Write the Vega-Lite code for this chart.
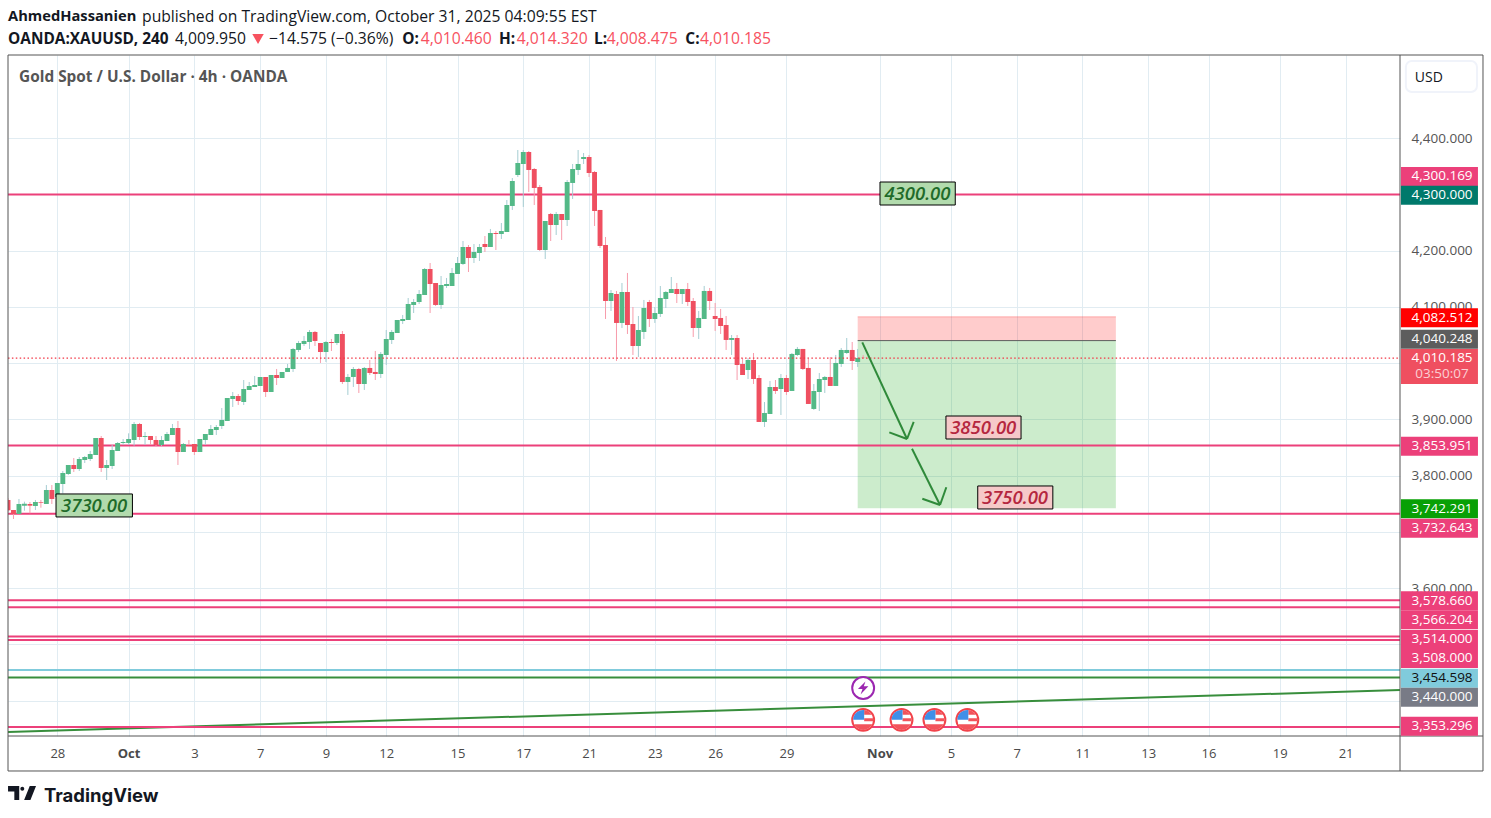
{"$schema":"https://vega.github.io/schema/vega-lite/v6.json","width":1392,"height":681,"autosize":{"type":"none"},"padding":{"left":8,"top":55,"right":91,"bottom":82},"background":"#ffffff","config":{"view":{"stroke":null},"font":"Open Sans","scale":{"continuousPadding":0}},
"resolve":{"scale":{"color":"independent","fill":"independent"},"axis":{"x":"independent","y":"independent"}},
"datasets":{
"candles":[
{"bar":-9,"open":3756.9,"high":3760,"low":3736,"close":3738.5},
{"bar":-8,"open":3739.1,"high":3739.1,"low":3723.1,"close":3732},
{"bar":-7,"open":3732,"high":3758.7,"low":3732,"close":3749.8},
{"bar":-6,"open":3746.8,"high":3753.9,"low":3737.9,"close":3750.4},
{"bar":-5,"open":3749.8,"high":3753.3,"low":3733.2,"close":3746.8},
{"bar":-4,"open":3746.2,"high":3756.9,"low":3739.1,"close":3753.3},
{"bar":-3,"open":3753.3,"high":3756.9,"low":3743.2,"close":3752.1},
{"bar":-2,"open":3749.8,"high":3783.5,"low":3749.8,"close":3774.7},
{"bar":-1,"open":3774.7,"high":3783.5,"low":3749.8,"close":3758.7},
{"bar":0,"open":3762.2,"high":3787.1,"low":3762.2,"close":3787.1},
{"bar":1,"open":3785.3,"high":3808.4,"low":3768.7,"close":3804.9},
{"bar":2,"open":3803.1,"high":3819.1,"low":3801.3,"close":3819.1},
{"bar":3,"open":3819.1,"high":3831.5,"low":3806.7,"close":3812},
{"bar":4,"open":3812,"high":3833.3,"low":3808.4,"close":3829.8},
{"bar":5,"open":3828,"high":3835.1,"low":3822.6,"close":3833.3},
{"bar":6,"open":3829.8,"high":3844,"low":3826.2,"close":3838.6},
{"bar":7,"open":3836.9,"high":3867.1,"low":3836.9,"close":3867.1},
{"bar":8,"open":3867.1,"high":3870.6,"low":3806.7,"close":3813.8},
{"bar":9,"open":3813.8,"high":3828,"low":3792.4,"close":3819.1},
{"bar":10,"open":3817.3,"high":3854.7,"low":3812,"close":3845.8},
{"bar":11,"open":3844,"high":3860,"low":3844,"close":3858.2},
{"bar":12,"open":3858.2,"high":3865.3,"low":3854.7,"close":3860},
{"bar":13,"open":3858.2,"high":3875.4,"low":3854.7,"close":3865.3},
{"bar":14,"open":3863.5,"high":3895.5,"low":3853.5,"close":3892},
{"bar":15,"open":3892,"high":3893.8,"low":3863.5,"close":3868.9},
{"bar":16,"open":3868.9,"high":3877.8,"low":3854.7,"close":3870.6},
{"bar":17,"open":3870.6,"high":3870.6,"low":3854.7,"close":3863.5},
{"bar":18,"open":3863.5,"high":3870.6,"low":3852.9,"close":3854.7},
{"bar":19,"open":3854.7,"high":3870.6,"low":3852.9,"close":3863.5},
{"bar":20,"open":3861.8,"high":3877.8,"low":3861.8,"close":3874.2},
{"bar":21,"open":3872.4,"high":3892,"low":3872.4,"close":3884.9},
{"bar":22,"open":3884.9,"high":3897.3,"low":3819.1,"close":3842.2},
{"bar":23,"open":3842.2,"high":3858.2,"low":3842.2,"close":3856.4},
{"bar":24,"open":3854.7,"high":3863.5,"low":3851.1,"close":3852.9},
{"bar":25,"open":3856.4,"high":3856.4,"low":3836.9,"close":3842.2},
{"bar":26,"open":3842.2,"high":3865.3,"low":3842.2,"close":3865.3},
{"bar":27,"open":3863.5,"high":3874.2,"low":3854.7,"close":3874.2},
{"bar":28,"open":3872.4,"high":3890.2,"low":3872.4,"close":3883.1},
{"bar":29,"open":3881.3,"high":3890.2,"low":3872.4,"close":3886.7},
{"bar":30,"open":3888.4,"high":3920.4,"low":3883.1,"close":3899.1},
{"bar":31,"open":3897.3,"high":3938.2,"low":3897.3,"close":3938.2},
{"bar":32,"open":3936.4,"high":3948.9,"low":3922.2,"close":3941.8},
{"bar":33,"open":3941.8,"high":3945.3,"low":3925.8,"close":3932.9},
{"bar":34,"open":3931.1,"high":3970.2,"low":3925.8,"close":3954.2},
{"bar":35,"open":3952.4,"high":3966.7,"low":3952.4,"close":3959.5},
{"bar":36,"open":3957.8,"high":3977.3,"low":3957.8,"close":3961.3},
{"bar":37,"open":3959.5,"high":3975.5,"low":3959.5,"close":3975.5},
{"bar":38,"open":3975.5,"high":3975.5,"low":3940,"close":3948.9},
{"bar":39,"open":3948.9,"high":3979.1,"low":3948.9,"close":3979.1},
{"bar":40,"open":3979.1,"high":3989.8,"low":3961.3,"close":3973.8},
{"bar":41,"open":3973.8,"high":3984.4,"low":3973.8,"close":3984.4},
{"bar":42,"open":3984.5,"high":3998.7,"low":3984.5,"close":3991.6},
{"bar":43,"open":3989.8,"high":4027.1,"low":3984.5,"close":4025.3},
{"bar":44,"open":4023.6,"high":4039.6,"low":4020,"close":4036},
{"bar":45,"open":4034.2,"high":4048.5,"low":4030.7,"close":4039.6},
{"bar":46,"open":4037.8,"high":4059.1,"low":4025.3,"close":4055.6},
{"bar":47,"open":4055.6,"high":4057.3,"low":4030.7,"close":4039.6},
{"bar":48,"open":4036,"high":4036,"low":4000.5,"close":4020},
{"bar":49,"open":4020,"high":4039.6,"low":4002.2,"close":4037.8},
{"bar":50,"open":4037.8,"high":4043.1,"low":4021.8,"close":4036},
{"bar":51,"open":4036,"high":4052,"low":4032.5,"close":4052},
{"bar":52,"open":4052,"high":4057.3,"low":3963.1,"close":3966.7},
{"bar":53,"open":3966.7,"high":3980.9,"low":3943.6,"close":3975.6},
{"bar":54,"open":3975.6,"high":3993.3,"low":3957.8,"close":3989.8},
{"bar":55,"open":3989.8,"high":3991.6,"low":3947.1,"close":3963.1},
{"bar":56,"open":3963.1,"high":3993.3,"low":3952.5,"close":3991.6},
{"bar":57,"open":3991.6,"high":4005.8,"low":3979.1,"close":3982.7},
{"bar":58,"open":3984.5,"high":4021.8,"low":3970.2,"close":3980.9},
{"bar":59,"open":3980.9,"high":4020,"low":3973.8,"close":4016.5},
{"bar":60,"open":4014.7,"high":4059.1,"low":3996.9,"close":4043.1},
{"bar":61,"open":4041.3,"high":4059.1,"low":4034.2,"close":4055.6},
{"bar":62,"open":4053.8,"high":4076.9,"low":4053.8,"close":4076.9},
{"bar":63,"open":4075.1,"high":4085.8,"low":4069.8,"close":4078.7},
{"bar":64,"open":4076.9,"high":4116,"low":4076.9,"close":4105.3},
{"bar":65,"open":4103.6,"high":4114.2,"low":4089.3,"close":4108.9},
{"bar":66,"open":4108.9,"high":4130.2,"low":4105.3,"close":4123.1},
{"bar":67,"open":4121.3,"high":4169.3,"low":4121.3,"close":4167.6},
{"bar":68,"open":4167.6,"high":4178.2,"low":4089.3,"close":4140.9},
{"bar":69,"open":4142.7,"high":4142.7,"low":4101.8,"close":4103.6},
{"bar":70,"open":4103.6,"high":4155.1,"low":4096.5,"close":4139.1},
{"bar":71,"open":4137.3,"high":4151.6,"low":4133.8,"close":4140.9},
{"bar":72,"open":4137.3,"high":4169.3,"low":4137.3,"close":4160.5},
{"bar":73,"open":4158.7,"high":4188.9,"low":4158.7,"close":4178.2},
{"bar":74,"open":4176.5,"high":4217.3,"low":4174.7,"close":4206.7},
{"bar":75,"open":4206.7,"high":4210.2,"low":4162.2,"close":4187.1},
{"bar":76,"open":4187.1,"high":4212,"low":4178.2,"close":4197.8},
{"bar":77,"open":4196,"high":4212,"low":4181.8,"close":4206.7},
{"bar":78,"open":4212,"high":4226.2,"low":4197.8,"close":4206.7},
{"bar":79,"open":4206.7,"high":4238.7,"low":4206.7,"close":4231.6},
{"bar":80,"open":4231.6,"high":4235.1,"low":4201.3,"close":4229.8},
{"bar":81,"open":4229.8,"high":4249.3,"low":4220.9,"close":4235.1},
{"bar":82,"open":4233.3,"high":4290.2,"low":4233.3,"close":4281.3},
{"bar":83,"open":4279.6,"high":4329.3,"low":4272.5,"close":4324},
{"bar":84,"open":4334.7,"high":4379.1,"low":4331.1,"close":4356},
{"bar":85,"open":4354.2,"high":4379.1,"low":4277.8,"close":4375.6},
{"bar":86,"open":4375.6,"high":4377.3,"low":4304.5,"close":4343.6},
{"bar":87,"open":4345.3,"high":4347.1,"low":4281.3,"close":4311.6},
{"bar":88,"open":4313.3,"high":4316.9,"low":4199.6,"close":4201.3},
{"bar":89,"open":4201.3,"high":4252.9,"low":4185.3,"close":4252.9},
{"bar":90,"open":4265.3,"high":4267.1,"low":4217.3,"close":4245.8},
{"bar":91,"open":4245.8,"high":4268.9,"low":4228,"close":4265.3},
{"bar":92,"open":4265.3,"high":4265.3,"low":4219.1,"close":4254.7},
{"bar":93,"open":4254.7,"high":4325.8,"low":4244,"close":4322.2},
{"bar":94,"open":4320.5,"high":4354.2,"low":4292,"close":4345.3},
{"bar":95,"open":4343.6,"high":4379.1,"low":4334.7,"close":4354.2},
{"bar":96,"open":4363.1,"high":4373.8,"low":4354.2,"close":4366.7},
{"bar":97,"open":4366.7,"high":4370.2,"low":4331.1,"close":4338.2},
{"bar":98,"open":4340,"high":4341.8,"low":4244,"close":4270.7},
{"bar":99,"open":4272.5,"high":4272.5,"low":4204.9,"close":4208.5},
{"bar":100,"open":4210.2,"high":4224.5,"low":4078.7,"close":4110.7},
{"bar":101,"open":4110.7,"high":4130.2,"low":4092.9,"close":4124.9},
{"bar":102,"open":4123.1,"high":4128.5,"low":4004,"close":4071.6},
{"bar":103,"open":4071.6,"high":4142.7,"low":4062.7,"close":4126.7},
{"bar":104,"open":4126.7,"high":4160.5,"low":4052,"close":4068},
{"bar":105,"open":4069.8,"high":4100,"low":4014.7,"close":4030.7},
{"bar":106,"open":4030.7,"high":4084,"low":4011.1,"close":4059.1},
{"bar":107,"open":4055.6,"high":4112.5,"low":4043.1,"close":4098.2},
{"bar":108,"open":4108.9,"high":4112.5,"low":4064.5,"close":4078.7},
{"bar":109,"open":4078.7,"high":4100,"low":4071.6,"close":4089.3},
{"bar":110,"open":4087.6,"high":4137.3,"low":4082.2,"close":4116},
{"bar":111,"open":4114.2,"high":4128.5,"low":4098.2,"close":4126.7},
{"bar":112,"open":4124.9,"high":4153.3,"low":4124.9,"close":4132},
{"bar":113,"open":4132,"high":4142.7,"low":4107.1,"close":4123.1},
{"bar":114,"open":4123.1,"high":4132,"low":4105.3,"close":4132},
{"bar":115,"open":4132,"high":4142.7,"low":4101.8,"close":4108.9},
{"bar":116,"open":4110.7,"high":4116,"low":4046.7,"close":4062.7},
{"bar":117,"open":4062.7,"high":4092.9,"low":4043.1,"close":4080.5},
{"bar":118,"open":4078.7,"high":4137.4,"low":4078.7,"close":4128.5},
{"bar":119,"open":4128.5,"high":4133.8,"low":4094.7,"close":4110.7},
{"bar":120,"open":4084,"high":4107.1,"low":4057.4,"close":4078.7},
{"bar":121,"open":4080.5,"high":4096.5,"low":4052,"close":4066.2},
{"bar":122,"open":4068,"high":4084,"low":4023.6,"close":4041.4},
{"bar":123,"open":4041.4,"high":4050.2,"low":4014.7,"close":4044.9},
{"bar":124,"open":4044.9,"high":4050.2,"low":3970.2,"close":3996.9},
{"bar":125,"open":3998.7,"high":4009.4,"low":3979.1,"close":3979.1},
{"bar":126,"open":3988,"high":4009.4,"low":3972,"close":4005.8},
{"bar":127,"open":4005.8,"high":4018.2,"low":3963.1,"close":3972},
{"bar":128,"open":3973.8,"high":3979.1,"low":3895.6,"close":3895.6},
{"bar":129,"open":3895.6,"high":3931.1,"low":3886.7,"close":3911.6},
{"bar":130,"open":3909.8,"high":3968.5,"low":3909.8,"close":3957.8},
{"bar":131,"open":3957.8,"high":3970.2,"low":3945.4,"close":3950.7},
{"bar":132,"open":3954.2,"high":3980.9,"low":3908,"close":3973.8},
{"bar":133,"open":3973.8,"high":3979.1,"low":3943.6,"close":3948.9},
{"bar":134,"open":3950.7,"high":4018.2,"low":3950.7,"close":4016.5},
{"bar":135,"open":4014.7,"high":4028.9,"low":4012.9,"close":4025.4},
{"bar":136,"open":4025.4,"high":4025.4,"low":3988,"close":3989.8},
{"bar":137,"open":3991.6,"high":4007.6,"low":3927.6,"close":3927.6},
{"bar":138,"open":3918.7,"high":3963.1,"low":3916.9,"close":3950.7},
{"bar":139,"open":3948.9,"high":3982.7,"low":3915.1,"close":3972},
{"bar":140,"open":3970.2,"high":3977.4,"low":3947.1,"close":3975.6},
{"bar":141,"open":3975.6,"high":4011.1,"low":3959.6,"close":3959.6},
{"bar":142,"open":3959.6,"high":4014.7,"low":3959.6,"close":4000.5},
{"bar":143,"open":3998.7,"high":4027.1,"low":3993.4,"close":4023.6},
{"bar":144,"open":4018.2,"high":4044.9,"low":4016.5,"close":4023.6},
{"bar":145,"open":4023.6,"high":4037.8,"low":3988,"close":4004},
{"bar":146,"open":4002.2,"high":4025.4,"low":3993.4,"close":4009.4},
{"bar":147,"open":4010.46,"high":4014.32,"low":4008.475,"close":4010.185}
],
"levels":[{"price":4300,"kind":"pink"},{"price":3853.951,"kind":"pink"},{"price":3732.643,"kind":"pink"},{"price":3578.66,"kind":"pink"},{"price":3566.204,"kind":"pink"},{"price":3514,"kind":"pink"},{"price":3508,"kind":"pink"},{"price":3353.296,"kind":"pink"},{"price":3454.598,"kind":"blue"},{"price":3441.5,"kind":"green"}],
"tags":[
{"label":"4,300.169","at":4332,"kind":"pink"},
{"label":"4,300.000","at":4298.6,"kind":"teal"},
{"label":"4,082.512","at":4081,"kind":"red"},
{"label":"4,040.248","at":4042.8,"kind":"dark"},
{"label":"3,853.951","at":3852.3,"kind":"pink"},
{"label":"3,742.291","at":3741.4,"kind":"lime"},
{"label":"3,732.643","at":3706.6,"kind":"pink"},
{"label":"3,578.660","at":3577.7,"kind":"pink"},
{"label":"3,566.204","at":3544.1,"kind":"pink"},
{"label":"3,514.000","at":3508.9,"kind":"pink"},
{"label":"3,508.000","at":3475.1,"kind":"pink"},
{"label":"3,454.598","at":3439.9,"kind":"blue"},
{"label":"3,440.000","at":3406.3,"kind":"gray"},
{"label":"3,353.296","at":3354.6,"kind":"pink"}],
"boxes":[{"bar":146,"bar2":193.1,"top":4082.512,"bottom":4040.248,"side":"stop"},{"bar":146,"bar2":193.1,"top":4040.248,"bottom":3742.291,"side":"target"}],
"arrows":[
{"bar":146.84,"price":4037.2,"bar2":155,"price2":3865.3},
{"bar":151.77,"price":3877.2,"bar2":155,"price2":3865.3},
{"bar":156.22,"price":3895.6,"bar2":155,"price2":3865.3},
{"bar":155.91,"price":3848.1,"bar2":161.02,"price2":3748},
{"bar":157.79,"price":3759.2,"bar2":161.02,"price2":3748},
{"bar":162.17,"price":3779.5,"bar2":161.02,"price2":3748}],
"trend":[{"bar":-9,"price":3344.4,"bar2":244.93,"price2":3419.1}],
"notes":[
{"label":"4300.00","bar":150.07,"bar2":163.8,"top":4322.2,"bottom":4281.3,"mid":156.9,"price":4300.5,"tone":"up"},
{"label":"3730.00","bar":-0.24,"bar2":13.7,"top":3767.6,"bottom":3726.7,"mid":6.7,"price":3746.5,"tone":"up"},
{"label":"3850.00","bar":162.1,"bar2":175.8,"top":3906.2,"bottom":3865.3,"mid":168.9,"price":3885.7,"tone":"down"},
{"label":"3750.00","bar":167.9,"bar2":181.6,"top":3781.8,"bottom":3740.9,"mid":174.7,"price":3760.5,"tone":"down"}],
"flags":[{"bar":147,"price":3366},{"bar":154,"price":3366},{"bar":160,"price":3366},{"bar":166,"price":3366}],
"bolt":[{"bar":147,"price":3422.7}],
"boldName":[{"label":"AhmedHassanien","bar":-8.99,"price":4615.5}],
"boldText":[
{"label":"OANDA:XAUUSD, 240","bar":-8.99,"price":4576.4},
{"label":"O:","bar":62.93,"price":4576.4},
{"label":"H:","bar":80.57,"price":4576.4},
{"label":"L:","bar":97.9,"price":4576.4},
{"label":"C:","bar":114.56,"price":4576.4}],
"plainText":[
{"label":"published on TradingView.com, October 31, 2025 04:09:55 EST","bar":15.45,"price":4615.5},
{"label":"4,009.950","bar":21.47,"price":4576.4},
{"label":"−14.575 (−0.36%)","bar":38.62,"price":4576.4}],
"redText":[
{"label":"4,010.460","bar":66.29,"price":4576.4},
{"label":"4,014.320","bar":83.8,"price":4576.4},
{"label":"4,008.475","bar":100.22,"price":4576.4},
{"label":"4,010.185","bar":117.24,"price":4576.4}],
"drop":[{"bar":36.61,"price":4576.4}],
"pane":[{"label":"Gold Spot / U.S. Dollar · 4h · OANDA","bar":-6.99,"price":4509}],
"brand":[{"label":"TradingView","bar":-2.43,"price":3230}],
"brandIcon":[{"bar":-6.44,"price":3236}],
"currency":[{"label":"USD","bar":246,"bar2":258.97,"top":4537.3,"bottom":4482.2,"mid":250.2,"price":4507.1}],
"frame":[{"bar":-9,"bar2":260.07,"top":4548,"bottom":3275.1}],
"frameV":[{"bar":244.93,"top":4548,"bottom":3275.1}],
"frameH":[{"bar":-9,"bar2":260.07,"price":3337.3}],
"midline":[{"bar":146,"bar2":193.1,"price":4040.248}],
"stopline":[{"bar":146,"bar2":193.1,"price":4082.512}],
"lastPrice":[{"bar":-9,"bar2":244.93,"price":4009.2}],
"lastTag":[{"bar":245.1,"bar2":259.15,"price":3994.2}],
"lastLabel":[{"label":"4,010.185","price":4009.3}],
"countdown":[{"label":"03:50:07","price":3980.9}]
},
"layer":[
{"data":{"name":"boxes"},"mark":{"type":"rect"},"encoding":{
"x":{"field":"bar","type":"quantitative","title":null,"scale":{"domain":[-9,244.93],"nice":false,"zero":false},"axis":{"orient":"bottom","values":[0,13,25,37,49,60,73,85,97,109,120,133,150,163,175,187,199,210,223,235],"labelExpr":"{'0':'28','13':'Oct','25':'3','37':'7','49':'9','60':'12','73':'15','85':'17','97':'21','109':'23','120':'26','133':'29','150':'Nov','163':'5','175':'7','187':'11','199':'13','210':'16','223':'19','235':'21'}[datum.value]","domain":false,"ticks":false,"grid":true,"gridColor":"#e1ecf2","gridWidth":1,"labelColor":"#4a4a4a","labelFontSize":13,"labelFont":"Open Sans","labelPadding":11,"labelOverlap":false,"labelFlush":false,"labelBound":false,"labelFontWeight":{"condition":{"test":"datum.value==13||datum.value==150","value":"bold"},"value":"normal"},"title":null}},
"x2":{"field":"bar2"},
"y":{"field":"top","type":"quantitative","title":null,"scale":{"domain":[3337.3,4548],"nice":false,"zero":false},"axis":{"orient":"right","values":[4400,4300,4200,4100,4000,3900,3800,3700,3600,3500,3400],"labelExpr":"indexof([4400,4200,4100,3900,3800,3600],datum.value)>=0?format(datum.value,',.3f'):''","domain":false,"ticks":false,"grid":true,"gridColor":"#e1ecf2","gridWidth":1,"labelColor":"#555555","labelFontSize":13.5,"labelFont":"Open Sans","labelPadding":11,"labelAlign":"left","labelOverlap":false,"labelFlush":false,"labelBound":false,"title":null}},
"y2":{"field":"bottom"},
"color":{"field":"side","type":"nominal","legend":null,"scale":{"domain":["stop","target"],"range":["#ff0000","#00a000"]}},
"opacity":{"value":0.2}}},
{"data":{"name":"stopline"},"mark":{"type":"rule","color":"#ff0000","opacity":0.25,"strokeWidth":1},"encoding":{"x":{"field":"bar","type":"quantitative","scale":{"domain":[-9,244.93],"nice":false,"zero":false},"axis":null},"x2":{"field":"bar2"},"y":{"field":"price","type":"quantitative","scale":{"domain":[3337.3,4548],"nice":false,"zero":false},"axis":null}}},
{"data":{"name":"midline"},"mark":{"type":"rule","color":"#5d5d5d","strokeWidth":1},"encoding":{"x":{"field":"bar","type":"quantitative","scale":{"domain":[-9,244.93],"nice":false,"zero":false},"axis":null},"x2":{"field":"bar2"},"y":{"field":"price","type":"quantitative","scale":{"domain":[3337.3,4548],"nice":false,"zero":false},"axis":null}}},
{"data":{"name":"trend"},"mark":{"type":"rule","color":"#388e3c","strokeWidth":2},"encoding":{"x":{"field":"bar","type":"quantitative","scale":{"domain":[-9,244.93],"nice":false,"zero":false},"axis":null},"x2":{"field":"bar2"},"y":{"field":"price","type":"quantitative","scale":{"domain":[3337.3,4548],"nice":false,"zero":false},"axis":null},"y2":{"field":"price2"}}},
{"data":{"name":"levels"},"mark":{"type":"rule","strokeWidth":2},"encoding":{"y":{"field":"price","type":"quantitative","scale":{"domain":[3337.3,4548],"nice":false,"zero":false},"axis":null},"color":{"field":"kind","type":"nominal","legend":null,"scale":{"domain":["pink","blue","green"],"range":["#ec407a","#80cbdc","#388e3c"]}}}},
{"data":{"name":"candles"},"mark":{"type":"rule","strokeWidth":1,"clip":true},"encoding":{"x":{"field":"bar","type":"quantitative","scale":{"domain":[-9,244.93],"nice":false,"zero":false},"axis":null},"y":{"field":"low","type":"quantitative","scale":{"domain":[3337.3,4548],"nice":false,"zero":false},"axis":null},"y2":{"field":"high"},"color":{"condition":{"test":"datum.close>=datum.open","value":"#a5cdd2"},"value":"#f79cab"}}},
{"data":{"name":"candles"},"mark":{"type":"bar","size":4.9,"clip":true},"encoding":{"x":{"field":"bar","type":"quantitative","scale":{"domain":[-9,244.93],"nice":false,"zero":false},"axis":null},"y":{"field":"open","type":"quantitative","scale":{"domain":[3337.3,4548],"nice":false,"zero":false},"axis":null},"y2":{"field":"close"},"color":{"condition":{"test":"datum.close>=datum.open","value":"#53b987"},"value":"#ef4f60"}}},
{"data":{"name":"lastPrice"},"mark":{"type":"rule","color":"#f23645","strokeWidth":1.2,"strokeDash":[1.5,2.4]},"encoding":{"x":{"field":"bar","type":"quantitative","scale":{"domain":[-9,244.93],"nice":false,"zero":false},"axis":null},"x2":{"field":"bar2"},"y":{"field":"price","type":"quantitative","scale":{"domain":[3337.3,4548],"nice":false,"zero":false},"axis":null}}},
{"data":{"name":"arrows"},"mark":{"type":"rule","color":"#2f8a3a","strokeWidth":2},"encoding":{"x":{"field":"bar","type":"quantitative","scale":{"domain":[-9,244.93],"nice":false,"zero":false},"axis":null},"x2":{"field":"bar2"},"y":{"field":"price","type":"quantitative","scale":{"domain":[3337.3,4548],"nice":false,"zero":false},"axis":null},"y2":{"field":"price2"}}},
{"data":{"name":"notes"},"mark":{"type":"rect","stroke":"#000000","strokeWidth":1},"encoding":{"x":{"field":"bar","type":"quantitative","scale":{"domain":[-9,244.93],"nice":false,"zero":false},"axis":null},"x2":{"field":"bar2"},"y":{"field":"top","type":"quantitative","scale":{"domain":[3337.3,4548],"nice":false,"zero":false},"axis":null},"y2":{"field":"bottom"},"fill":{"field":"tone","type":"nominal","legend":null,"scale":{"domain":["up","down"],"range":["#b2dbad","#f6c9c9"]}}}},
{"data":{"name":"notes"},"mark":{"type":"text","fontSize":18.5,"fontStyle":"italic","fontWeight":600,"font":"Open Sans","align":"center","baseline":"middle"},"encoding":{"x":{"field":"mid","type":"quantitative","scale":{"domain":[-9,244.93],"nice":false,"zero":false},"axis":null},"y":{"field":"price","type":"quantitative","scale":{"domain":[3337.3,4548],"nice":false,"zero":false},"axis":null},"text":{"field":"label"},"color":{"field":"tone","type":"nominal","legend":null,"scale":{"domain":["up","down"],"range":["#1f6b2a","#b5273f"]}}}},
{"data":{"name":"flags"},"mark":{"type":"point","shape":"circle","filled":true,"fill":"#ffffff","stroke":"#f2434b","strokeWidth":2,"size":480,"opacity":1},"encoding":{"x":{"field":"bar","type":"quantitative","scale":{"domain":[-9,244.93],"nice":false,"zero":false},"axis":null},"y":{"field":"price","type":"quantitative","scale":{"domain":[3337.3,4548],"nice":false,"zero":false},"axis":null}}},
{"data":{"name":"flags"},"mark":{"type":"point","filled":true,"color":"#f2535b","size":400,"opacity":1,"shape":"M0.1,-0.99 A1,1 0 0 1 0.85,-0.5 L0.1,-0.5 Z M0.1,-0.15 L0.99,-0.15 A1,1 0 0 1 0.99,0.15 L0.1,0.15 Z M-0.9,0.45 L0.9,0.45 A1,1 0 0 1 -0.9,0.45 Z"},"encoding":{"x":{"field":"bar","type":"quantitative","scale":{"domain":[-9,244.93],"nice":false,"zero":false},"axis":null},"y":{"field":"price","type":"quantitative","scale":{"domain":[3337.3,4548],"nice":false,"zero":false},"axis":null}}},
{"data":{"name":"flags"},"mark":{"type":"point","filled":true,"color":"#3f8fe8","size":400,"opacity":1,"shape":"M0.1,-0.99 L0.1,0 L-1,0 A1,1 0 0 1 0.1,-0.99 Z"},"encoding":{"x":{"field":"bar","type":"quantitative","scale":{"domain":[-9,244.93],"nice":false,"zero":false},"axis":null},"y":{"field":"price","type":"quantitative","scale":{"domain":[3337.3,4548],"nice":false,"zero":false},"axis":null}}},
{"data":{"name":"bolt"},"mark":{"type":"point","shape":"circle","filled":true,"fill":"#ffffff","stroke":"#9c27b0","strokeWidth":2,"size":480,"opacity":1},"encoding":{"x":{"field":"bar","type":"quantitative","scale":{"domain":[-9,244.93],"nice":false,"zero":false},"axis":null},"y":{"field":"price","type":"quantitative","scale":{"domain":[3337.3,4548],"nice":false,"zero":false},"axis":null}}},
{"data":{"name":"bolt"},"mark":{"type":"point","filled":true,"color":"#9c27b0","size":170,"opacity":1,"shape":"M0.35,-1 L-0.8,0.15 L-0.1,0.15 L-0.4,1 L0.8,-0.25 L0.1,-0.25 Z"},"encoding":{"x":{"field":"bar","type":"quantitative","scale":{"domain":[-9,244.93],"nice":false,"zero":false},"axis":null},"y":{"field":"price","type":"quantitative","scale":{"domain":[3337.3,4548],"nice":false,"zero":false},"axis":null}}},
{"data":{"name":"frame"},"mark":{"type":"rect","fillOpacity":0,"stroke":"#555555","strokeWidth":1},"encoding":{"x":{"field":"bar","type":"quantitative","scale":{"domain":[-9,244.93],"nice":false,"zero":false},"axis":null},"x2":{"field":"bar2"},"y":{"field":"top","type":"quantitative","scale":{"domain":[3337.3,4548],"nice":false,"zero":false},"axis":null},"y2":{"field":"bottom"}}},
{"data":{"name":"frameV"},"mark":{"type":"rule","color":"#555555","strokeWidth":1},"encoding":{"x":{"field":"bar","type":"quantitative","scale":{"domain":[-9,244.93],"nice":false,"zero":false},"axis":null},"y":{"field":"top","type":"quantitative","scale":{"domain":[3337.3,4548],"nice":false,"zero":false},"axis":null},"y2":{"field":"bottom"}}},
{"data":{"name":"frameH"},"mark":{"type":"rule","color":"#555555","strokeWidth":1},"encoding":{"x":{"field":"bar","type":"quantitative","scale":{"domain":[-9,244.93],"nice":false,"zero":false},"axis":null},"x2":{"field":"bar2"},"y":{"field":"price","type":"quantitative","scale":{"domain":[3337.3,4548],"nice":false,"zero":false},"axis":null}}},
{"data":{"name":"tags"},"mark":{"type":"rule","strokeWidth":19},"encoding":{"x":{"datum":245.1,"type":"quantitative","scale":{"domain":[-9,244.93],"nice":false,"zero":false},"axis":null},"x2":{"datum":259.15},"y":{"field":"at","type":"quantitative","scale":{"domain":[3337.3,4548],"nice":false,"zero":false},"axis":null},"color":{"field":"kind","type":"nominal","legend":null,"scale":{"domain":["pink","teal","red","dark","lime","blue","gray"],"range":["#ec407a","#00796b","#ff0000","#5d5d5d","#08a005","#80cbdc","#787b86"]}}}},
{"data":{"name":"lastTag"},"mark":{"type":"rule","strokeWidth":35,"color":"#ef4f60"},"encoding":{"x":{"field":"bar","type":"quantitative","scale":{"domain":[-9,244.93],"nice":false,"zero":false},"axis":null},"x2":{"field":"bar2"},"y":{"field":"price","type":"quantitative","scale":{"domain":[3337.3,4548],"nice":false,"zero":false},"axis":null}}},
{"data":{"name":"tags"},"mark":{"type":"text","fontSize":13.5,"font":"Open Sans","align":"center","baseline":"middle"},"encoding":{"x":{"datum":252.6,"type":"quantitative","scale":{"domain":[-9,244.93],"nice":false,"zero":false},"axis":null},"y":{"field":"at","type":"quantitative","scale":{"domain":[3337.3,4548],"nice":false,"zero":false},"axis":null},"text":{"field":"label"},"color":{"condition":{"test":"datum.kind=='blue'","value":"#111111"},"value":"#ffffff"}}},
{"data":{"name":"lastLabel"},"mark":{"type":"text","fontSize":13.5,"font":"Open Sans","align":"center","baseline":"middle","color":"#ffffff"},"encoding":{"x":{"datum":252.6,"type":"quantitative","scale":{"domain":[-9,244.93],"nice":false,"zero":false},"axis":null},"y":{"field":"price","type":"quantitative","scale":{"domain":[3337.3,4548],"nice":false,"zero":false},"axis":null},"text":{"field":"label"}}},
{"data":{"name":"countdown"},"mark":{"type":"text","fontSize":13.5,"font":"Open Sans","align":"center","baseline":"middle","color":"#fbd0d4"},"encoding":{"x":{"datum":252.6,"type":"quantitative","scale":{"domain":[-9,244.93],"nice":false,"zero":false},"axis":null},"y":{"field":"price","type":"quantitative","scale":{"domain":[3337.3,4548],"nice":false,"zero":false},"axis":null},"text":{"field":"label"}}},
{"data":{"name":"currency"},"mark":{"type":"rect","fill":"#ffffff","stroke":"#f0f3fa","strokeWidth":2,"cornerRadius":6},"encoding":{"x":{"field":"bar","type":"quantitative","scale":{"domain":[-9,244.93],"nice":false,"zero":false},"axis":null},"x2":{"field":"bar2"},"y":{"field":"top","type":"quantitative","scale":{"domain":[3337.3,4548],"nice":false,"zero":false},"axis":null},"y2":{"field":"bottom"}}},
{"data":{"name":"currency"},"mark":{"type":"text","fontSize":14,"font":"Open Sans","align":"center","baseline":"middle","color":"#131722"},"encoding":{"x":{"field":"mid","type":"quantitative","scale":{"domain":[-9,244.93],"nice":false,"zero":false},"axis":null},"y":{"field":"price","type":"quantitative","scale":{"domain":[3337.3,4548],"nice":false,"zero":false},"axis":null},"text":{"field":"label"}}},
{"data":{"name":"boldName"},"mark":{"type":"text","fontSize":14.7,"fontWeight":"bold","font":"Open Sans","align":"left","baseline":"middle","color":"#131722"},"encoding":{"x":{"field":"bar","type":"quantitative","scale":{"domain":[-9,244.93],"nice":false,"zero":false},"axis":null},"y":{"field":"price","type":"quantitative","scale":{"domain":[3337.3,4548],"nice":false,"zero":false},"axis":null},"text":{"field":"label"}}},
{"data":{"name":"boldText"},"mark":{"type":"text","fontSize":15.4,"fontWeight":"bold","font":"Open Sans","align":"left","baseline":"middle","color":"#131722"},"encoding":{"x":{"field":"bar","type":"quantitative","scale":{"domain":[-9,244.93],"nice":false,"zero":false},"axis":null},"y":{"field":"price","type":"quantitative","scale":{"domain":[3337.3,4548],"nice":false,"zero":false},"axis":null},"text":{"field":"label"}}},
{"data":{"name":"plainText"},"mark":{"type":"text","fontSize":15.7,"font":"Open Sans","align":"left","baseline":"middle","color":"#131722"},"encoding":{"x":{"field":"bar","type":"quantitative","scale":{"domain":[-9,244.93],"nice":false,"zero":false},"axis":null},"y":{"field":"price","type":"quantitative","scale":{"domain":[3337.3,4548],"nice":false,"zero":false},"axis":null},"text":{"field":"label"}}},
{"data":{"name":"redText"},"mark":{"type":"text","fontSize":15.7,"font":"Open Sans","align":"left","baseline":"middle","color":"#f7525f"},"encoding":{"x":{"field":"bar","type":"quantitative","scale":{"domain":[-9,244.93],"nice":false,"zero":false},"axis":null},"y":{"field":"price","type":"quantitative","scale":{"domain":[3337.3,4548],"nice":false,"zero":false},"axis":null},"text":{"field":"label"}}},
{"data":{"name":"drop"},"mark":{"type":"point","shape":"triangle-down","filled":true,"color":"#f7525f","size":130,"opacity":1},"encoding":{"x":{"field":"bar","type":"quantitative","scale":{"domain":[-9,244.93],"nice":false,"zero":false},"axis":null},"y":{"field":"price","type":"quantitative","scale":{"domain":[3337.3,4548],"nice":false,"zero":false},"axis":null}}},
{"data":{"name":"pane"},"mark":{"type":"text","fontSize":15.4,"fontWeight":"bold","font":"Open Sans","align":"left","baseline":"middle","color":"#555555"},"encoding":{"x":{"field":"bar","type":"quantitative","scale":{"domain":[-9,244.93],"nice":false,"zero":false},"axis":null},"y":{"field":"price","type":"quantitative","scale":{"domain":[3337.3,4548],"nice":false,"zero":false},"axis":null},"text":{"field":"label"}}},
{"data":{"name":"brand"},"mark":{"type":"text","fontSize":18.5,"fontWeight":"bold","font":"Inter","align":"left","baseline":"middle","color":"#131722"},"encoding":{"x":{"field":"bar","type":"quantitative","scale":{"domain":[-9,244.93],"nice":false,"zero":false},"axis":null},"y":{"field":"price","type":"quantitative","scale":{"domain":[3337.3,4548],"nice":false,"zero":false},"axis":null},"text":{"field":"label"}}},
{"data":{"name":"brandIcon"},"mark":{"type":"point","filled":true,"color":"#131722","size":784,"opacity":1,"shape":"M-1,-0.5 L-0.2,-0.5 L-0.2,0.5 L-0.55,0.5 L-0.55,-0.1 L-1,-0.1 Z M0.16,-0.3 A0.14,0.14 0 1 1 -0.12,-0.3 A0.14,0.14 0 1 1 0.16,-0.3 Z M0.55,-0.5 L1,-0.5 L0.6,0.5 L0.15,0.5 Z"},"encoding":{"x":{"field":"bar","type":"quantitative","scale":{"domain":[-9,244.93],"nice":false,"zero":false},"axis":null},"y":{"field":"price","type":"quantitative","scale":{"domain":[3337.3,4548],"nice":false,"zero":false},"axis":null}}}
]}
